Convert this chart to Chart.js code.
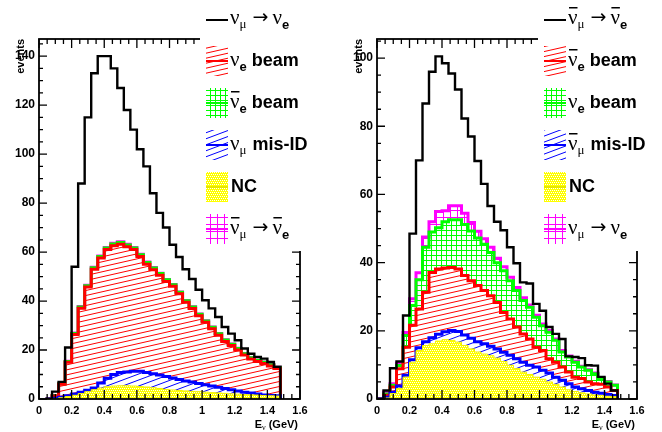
<!DOCTYPE html>
<html>
<head>
<meta charset="utf-8">
<title>Expected event spectra</title>
<script src="https://cdn.jsdelivr.net/npm/chart.js@4.4.0/dist/chart.umd.min.js"></script>
<style>
html, body { margin:0; padding:0; background:#ffffff; }
#wrap { position:relative; width:662px; height:432px; overflow:hidden; background:#ffffff; }
#wrap canvas { position:absolute; top:0; }
#cl { left:0; }
#cr { left:331px; }
</style>
</head>
<body>
<div id="wrap">
<canvas id="cl" width="331" height="432"></canvas>
<canvas id="cr" width="331" height="432"></canvas>
</div>
<script>
// ---------- binning / ticks ----------
const binEdges = [0,0.04,0.08,0.12,0.16,0.2,0.24,0.28,0.32,0.36,0.4,0.44,0.48,0.52,0.56,0.6,0.64,0.68,0.72,0.76,0.8,0.84,0.88,0.92,0.96,1,1.04,1.08,1.12,1.16,1.2,1.24,1.28,1.32,1.36,1.4,1.44,1.48,1.52,1.56,1.6];
const xTickValues = [0,0.2,0.4,0.6,0.8,1,1.2,1.4,1.6];
const xTickLabels = ['0','0.2','0.4','0.6','0.8','1','1.2','1.4','1.6'];
const yTicksLeft = [0,20,40,60,80,100,120,140];
const yTicksRight = [0,20,40,60,80,100];

// ---------- left panel (nu_mu -> nu_e), stack levels per bin ----------
const leftSignal = [0,0,3,7,21,54,88,115,133,140,140,135,127,118,110,102,95,84,76,70,63,58,53,49,44.6,40.3,37,33.5,29.4,26.7,24,20.6,18.5,17.2,16.5,15.1,13.1,0,0,0];
const leftNC = [0,0,0.2,0.5,1.0,1.5,2.2,3.0,3.8,4.5,5.0,5.3,5.4,5.4,5.3,5.1,4.9,4.6,4.3,3.9,3.7,3.5,3.3,3.1,3.0,2.8,2.6,2.5,2.3,2.1,2.0,1.8,1.7,1.6,1.4,1.3,1.2,0,0,0];
const leftMisIDTop = [0,0,0.3,0.7,1.3,2.0,2.8,3.6,4.5,6.5,8.5,10.0,10.8,11.0,11.3,11.3,10.8,10.3,9.8,9.2,8.6,8.0,7.4,6.9,6.3,5.8,5.3,4.8,4.3,3.8,3.3,2.8,2.4,2.0,1.6,1.4,1.3,0,0,0];
const leftNueBeamTop = [0,0,1.2,6.0,15.0,26.3,37.1,45.7,53.0,57.6,61.0,62.6,63.2,62.2,61.0,58.2,55.0,52.8,50.5,48.0,46.0,43.0,39.5,37.0,34.0,31.3,28.7,26.0,23.5,21.8,20.0,18.0,16.3,15.3,14.5,13.5,12.5,0,0,0];
const leftNuebarBeamTop = [0,0,1.3,6.2,15.3,26.7,37.6,46.2,53.6,58.2,61.7,63.3,63.9,62.9,61.7,58.9,55.7,53.5,51.2,48.7,46.7,43.6,40.1,37.6,34.6,31.9,29.3,26.6,24.1,22.4,20.6,18.5,16.8,15.8,15.0,14.0,13.0,0,0,0];
const leftWrongSignTop = [0,0,1.4,6.3,15.4,26.9,37.8,46.4,53.8,58.4,61.9,63.6,64.2,63.2,61.9,59.1,55.9,53.7,51.3,48.8,46.8,43.7,40.2,37.7,34.7,32.0,29.4,26.7,24.2,22.5,20.7,18.6,16.9,15.9,15.1,14.1,13.1,0,0,0];

// ---------- right panel (nubar_mu -> nubar_e), stack levels per bin ----------
const rightSignal = [0,2.5,9,11,24.5,48.5,70,86.7,96,100.5,98.5,95.5,90.8,82.3,77,69.8,63.1,56.6,52,49.5,44.5,39.8,34.2,33.9,27.9,25.9,21.1,19.1,17.6,12.5,12.3,12,9.9,9.8,6.5,4.5,2.5,0,0,0];
const rightNC = [0,0.3,1.6,3.1,6.4,10.8,14.2,15.7,16.2,17.0,17.4,17.2,16.7,15.7,14.7,13.8,13.2,12.7,12.0,11.0,9.9,8.9,7.9,7.2,6.4,5.8,5.0,4.3,3.5,2.7,2.2,1.8,1.5,1.2,1.0,0.8,0.7,0,0,0];
const rightMisIDTop = [0,0.5,2.0,3.8,7.0,11.5,15.0,16.8,18.0,19.0,19.7,20.1,19.8,18.8,17.8,16.8,16.2,15.5,14.7,13.7,12.8,11.8,10.8,9.9,9.4,8.4,7.6,6.4,5.5,4.5,3.5,3.0,2.5,2.0,1.7,1.3,1.0,0,0,0];
const rightNuebarBeamTop = [0,1.1,3.5,8.9,15.2,21.6,26.4,31.3,37.1,38.1,38.4,38.6,38.1,36.2,34.7,33.3,31.8,30.3,28.3,25.4,23.5,21.1,19.1,17.6,15.2,14.2,11.8,10.8,9.4,7.9,6.4,6.0,5.0,4.5,4.3,3.5,2.5,0,0,0];
const rightNueBeamTop = [0,1.5,4.0,9.8,18.6,27.4,35.0,44.5,49.0,50.2,52.0,52.6,52.6,51.2,49.3,47.2,45.4,43.0,40.0,37.6,34.7,31.8,28.9,26.9,24.0,21.5,19.6,17.2,13.8,12.3,10.8,9.4,8.4,7.4,6.0,5.0,4.0,0,0,0];
const rightWrongSignTop = [0,2.0,4.5,10.5,19.5,29.4,37.0,47.5,52.0,55.0,55.2,56.7,56.7,54.5,51.8,49.2,47.0,44.5,41.3,38.8,35.7,32.7,29.7,27.6,24.6,22.0,20.1,17.6,14.2,12.6,11.1,9.6,8.6,7.6,6.2,5.1,4.1,0,0,0];

// ---------- fill patterns ----------
function slantPattern(color, W, H, lw) {
  const c = document.createElement('canvas'); c.width = W; c.height = H;
  const g = c.getContext('2d');
  g.strokeStyle = color; g.lineWidth = lw;
  for (const dx of [-W, 0, W]) for (const dy of [-H, 0, H]) {
    g.beginPath(); g.moveTo(dx, H + dy); g.lineTo(W + dx, dy); g.stroke();
  }
  return g.createPattern(c, 'repeat');
}
function gridPattern(color, S, lw) {
  const c = document.createElement('canvas'); c.width = S; c.height = S;
  const g = c.getContext('2d');
  g.fillStyle = color; g.fillRect(0, 0, S, lw); g.fillRect(0, 0, lw, S);
  return g.createPattern(c, 'repeat');
}
function meshPattern(color) {
  const c = document.createElement('canvas'); c.width = 4; c.height = 4;
  const g = c.getContext('2d');
  g.fillStyle = color; g.fillRect(0, 0, 4, 4);
  g.fillStyle = '#ffffff';
  g.fillRect(0, 0, 1, 1); g.fillRect(2, 0, 1, 1); g.fillRect(1, 2, 1, 1); g.fillRect(3, 2, 1, 1);
  return g.createPattern(c, 'repeat');
}
const patRed = slantPattern('#ff0000', 22, 5, 1);
const patBlue = slantPattern('#0000ff', 16, 6, 1);
const patGreen = gridPattern('#00ff00', 5, 1);
const patMagenta = gridPattern('#ff00ff', 7, 1);
const patYellow = meshPattern('#ffff00');

Chart.defaults.font.family = '"Liberation Sans", Arial, Helvetica, sans-serif';

// ---------- text helpers ----------
const F_NU = '21px "Liberation Serif", "DejaVu Serif", serif';
const F_SUBG = '13px "Liberation Serif", "DejaVu Serif", serif';
const F_SUBE = 'bold 13px "Liberation Sans", Arial, sans-serif';
const F_ARROW = '19px "DejaVu Sans", sans-serif';
const F_TXT = 'bold 18px "Liberation Sans", Arial, sans-serif';
const NU = bar => ({s: 'ν', font: F_NU, bar: !!bar});
const SUB_MU = {s: 'μ', font: F_SUBG, dy: 4};
const SUB_E = {s: 'e', font: F_SUBE, dy: 5};
const ARROW = [{gap: 6}, {s: '→', font: F_ARROW, dy: -1}, {gap: 4}];
const TXT = (s, g) => [{gap: g === undefined ? 5 : g}, {s, font: F_TXT}];

function drawTokens(ctx, x, base, toks) {
  ctx.textAlign = 'left'; ctx.textBaseline = 'alphabetic';
  for (const t of toks.flat()) {
    if (t.gap !== undefined) { x += t.gap; continue; }
    ctx.font = t.font;
    const w = ctx.measureText(t.s).width;
    ctx.fillText(t.s, x, base + (t.dy || 0));
    if (t.bar) ctx.fillRect(x + 1, base - 17, w - 1, 1.5);
    x += w;
  }
}

function stepData(vals) {
  const pts = vals.map((v, i) => ({x: binEdges[i], y: v}));
  pts.push({x: binEdges[vals.length], y: 0});
  return pts;
}
const hideZero = c => (c.p0.parsed.y === 0 && c.p1.parsed.y === 0) ? 'rgba(0,0,0,0)' : undefined;
function stepDataset(vals, opts) {
  return Object.assign({data: stepData(vals), stepped: true, pointRadius: 0, borderJoinStyle: 'miter',
    segment: {borderColor: hideZero}}, opts);
}

function framePlugin(cfg) {
  return {
    id: 'rootFrame_' + cfg.id,
    afterDatasetsDraw(chart) {
      const {ctx, chartArea: a, scales: {x, y}} = chart;
      ctx.save();
      ctx.strokeStyle = '#000'; ctx.lineWidth = 1.3;
      ctx.beginPath();
      for (let k = 0; k * 5 <= cfg.yMax; k++) {
        const v = k * 5, py = y.getPixelForValue(v), len = (v % 20 === 0) ? 8 : 4;
        ctx.moveTo(a.left, py); ctx.lineTo(a.left + len, py);
        ctx.moveTo(a.right, py); ctx.lineTo(a.right - len, py);
      }
      for (let k = 0; k <= 32; k++) {
        const px = x.getPixelForValue(k * 0.05), len = (k % 4 === 0) ? 9 : 5;
        ctx.moveTo(px, a.bottom); ctx.lineTo(px, a.bottom - len);
        ctx.moveTo(px, a.top); ctx.lineTo(px, a.top + len);
      }
      ctx.stroke();
      ctx.lineWidth = 1.8;
      ctx.strokeRect(a.left, a.top, a.right - a.left, a.bottom - a.top);
      ctx.restore();
    },
    afterDraw(chart) {
      const {ctx, chartArea: a} = chart;
      ctx.save();
      // legend panel
      const lx = a.left + 161;
      ctx.fillStyle = '#ffffff';
      ctx.fillRect(lx, 0, chart.width - lx, 251);
      const symX = a.left + 167, symW = 22, txtX = a.left + 191;
      const bases = [24, 66, 108, 150, 192, 234];
      cfg.legend.forEach((it, i) => {
        const b = bases[i];
        if (it.type === 'line') {
          ctx.strokeStyle = it.color; ctx.lineWidth = 2;
          ctx.beginPath(); ctx.moveTo(symX, b - 4); ctx.lineTo(symX + symW, b - 4); ctx.stroke();
        } else {
          ctx.fillStyle = it.pat; ctx.fillRect(symX, b - 20, symW, 30);
          ctx.fillStyle = it.color; ctx.fillRect(symX, b - 6, symW, 2);
        }
        ctx.fillStyle = '#000';
        drawTokens(ctx, txtX, b, it.label);
      });
      // axis titles
      ctx.fillStyle = '#000';
      ctx.save();
      ctx.translate(a.left - 15.5, a.top);
      ctx.rotate(-Math.PI / 2);
      ctx.font = 'bold 11px "Liberation Sans", Arial, sans-serif';
      ctx.textAlign = 'right'; ctx.textBaseline = 'alphabetic';
      ctx.fillText('events', 0, 0);
      ctx.restore();
      const xt = [{s: 'E', font: 'bold 11px "Liberation Sans", Arial, sans-serif'},
                  {s: 'ν', font: '8px "Liberation Serif", serif', dy: 2},
                  {s: ' (GeV)', font: 'bold 11px "Liberation Sans", Arial, sans-serif'}];
      let tw = 0;
      xt.forEach(t => { ctx.font = t.font; tw += ctx.measureText(t.s).width; });
      drawTokens(ctx, a.right - 2 - tw, 428, xt);
      ctx.restore();
    }
  };
}

function buildChart(canvasId, cfg) {
  const datasets = [
    stepDataset(cfg.signal, {borderColor: '#000000', borderWidth: 2.4, fill: false}),
    stepDataset(cfg.nc, {borderColor: '#f2f200', borderWidth: 1, backgroundColor: patYellow, fill: 'origin'}),
    stepDataset(cfg.misid, {borderColor: '#0000ff', borderWidth: 3, backgroundColor: patBlue, fill: 1}),
    stepDataset(cfg.layer3, {borderColor: '#ff0000', borderWidth: 3, backgroundColor: patRed, fill: 2}),
    stepDataset(cfg.layer4, {borderColor: '#00ff00', borderWidth: 3, backgroundColor: patGreen, fill: 3}),
    stepDataset(cfg.wrong, {borderColor: '#ff00ff', borderWidth: 3, backgroundColor: patMagenta, fill: 4})
  ];
  return new Chart(document.getElementById(canvasId), {
    type: 'line',
    data: {datasets},
    options: {
      responsive: false, animation: false, devicePixelRatio: 1, events: [],
      layout: {padding: {left: 0, right: cfg.padRight, top: 39, bottom: 0}},
      plugins: {legend: {display: false}, tooltip: {enabled: false}, title: {display: false}},
      elements: {point: {radius: 0, hoverRadius: 0}, line: {tension: 0}},
      scales: {
        x: {
          type: 'linear', min: 0, max: 1.6,
          grid: {display: false, drawTicks: false}, border: {display: false},
          afterBuildTicks: s => { s.ticks = xTickValues.map(v => ({value: v})); },
          ticks: {autoSkip: false, maxRotation: 0, padding: 5, color: '#000',
                  font: {size: 11, weight: 'bold'}, callback: (v, i) => xTickLabels[i]},
          afterFit: s => { s.height = 33; }
        },
        y: {
          type: 'linear', min: 0, max: cfg.yMax,
          grid: {display: false, drawTicks: false}, border: {display: false},
          afterBuildTicks: s => { s.ticks = cfg.yTicks.map(v => ({value: v})); },
          ticks: {autoSkip: false, padding: 4, color: '#000',
                  font: {size: 12, weight: 'bold'}, callback: v => String(v)},
          afterFit: s => { s.width = cfg.yWidth; }
        }
      }
    },
    plugins: [framePlugin(cfg)]
  });
}

buildChart('cl', {
  id: 'left', yMax: 147, yTicks: yTicksLeft, yWidth: 39, padRight: 31,
  signal: leftSignal, nc: leftNC, misid: leftMisIDTop,
  layer3: leftNueBeamTop, layer4: leftNuebarBeamTop, wrong: leftWrongSignTop,
  legend: [
    {type: 'line', color: '#000000', label: [NU(), SUB_MU, ARROW, NU(), SUB_E]},
    {type: 'box', pat: patRed, color: '#ff0000', label: [NU(), SUB_E, TXT('beam')]},
    {type: 'box', pat: patGreen, color: '#00ff00', label: [NU(true), SUB_E, TXT('beam')]},
    {type: 'box', pat: patBlue, color: '#0000ff', label: [NU(), SUB_MU, TXT('mis-ID', 6)]},
    {type: 'box', pat: patYellow, color: '#e6e600', label: [TXT('NC', 1)]},
    {type: 'box', pat: patMagenta, color: '#ff00ff', label: [NU(true), SUB_MU, ARROW, NU(true), SUB_E]}
  ]
});

buildChart('cr', {
  id: 'right', yMax: 105.6, yTicks: yTicksRight, yWidth: 46, padRight: 25,
  signal: rightSignal, nc: rightNC, misid: rightMisIDTop,
  layer3: rightNuebarBeamTop, layer4: rightNueBeamTop, wrong: rightWrongSignTop,
  legend: [
    {type: 'line', color: '#000000', label: [NU(true), SUB_MU, ARROW, NU(true), SUB_E]},
    {type: 'box', pat: patRed, color: '#ff0000', label: [NU(true), SUB_E, TXT('beam')]},
    {type: 'box', pat: patGreen, color: '#00ff00', label: [NU(), SUB_E, TXT('beam')]},
    {type: 'box', pat: patBlue, color: '#0000ff', label: [NU(true), SUB_MU, TXT('mis-ID', 6)]},
    {type: 'box', pat: patYellow, color: '#e6e600', label: [TXT('NC', 1)]},
    {type: 'box', pat: patMagenta, color: '#ff00ff', label: [NU(), SUB_MU, ARROW, NU(), SUB_E]}
  ]
});
</script>
</body>
</html>
